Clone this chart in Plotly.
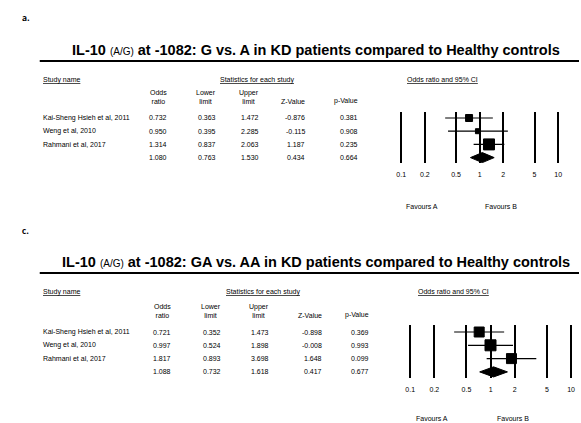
import plotly.graph_objects as go

W, H = 581, 423

studies = ["Kai-Sheng Hsieh et al, 2011", "Weng et al, 2010", "Rahmani et al, 2017"]
col_heads = ["Odds<br>ratio", "Lower<br>limit", "Upper<br>limit", "Z-Value", "p-Value"]
ticks = [0.1, 0.2, 0.5, 1, 2, 5, 10]

# panel a: G vs. A
a_or = [0.732, 0.950, 1.314, 1.080]
a_lo = [0.363, 0.395, 0.837, 0.763]
a_hi = [1.472, 2.285, 2.063, 1.530]
a_z = [-0.876, -0.115, 1.187, 0.434]
a_p = [0.381, 0.908, 0.235, 0.664]
a_size = [7, 5, 11]

# panel c: GA vs. AA
c_or = [0.721, 0.997, 1.817, 1.088]
c_lo = [0.352, 0.524, 0.893, 0.732]
c_hi = [1.473, 1.898, 3.698, 1.618]
c_z = [-0.898, -0.008, 1.648, 0.417]
c_p = [0.369, 0.993, 0.099, 0.677]
c_size = [10, 11, 10]

FONT = "Liberation Sans, Arial, sans-serif"
PAD = 0.03  # log-units of slack so the 0.1 and 10 rules are drawn
fig = go.Figure()
ann = []
shapes = []


def px(x):
    return x / W


def py(y):
    return 1 - y / H


def note(x, y, text, font, yanchor="middle", **kw):
    ann.append(dict(x=px(x), y=py(y), xref="paper", yref="paper", text=text,
                    showarrow=False, font=font, yanchor=yanchor, **kw))


def panel(label, title, ors, los, his, zs, ps, sizes, top, cols, stat_x,
          row0, row_step, ly0, ly1, fx0, fx1, fav_y, ax):
    xr = "x" if ax == 1 else f"x{ax}"
    yr = "y" if ax == 1 else f"y{ax}"
    note(18, top - 43, f"<b>{label}</b>", dict(size=10, family="Carlito, " + FONT, color="black"),
         xanchor="left")
    note(316, top - 11, title, dict(size=14.5, family=FONT, color="black"))
    shapes.append(dict(type="line", xref="paper", yref="paper", x0=px(38), x1=1,
                       y0=py(top), y1=py(top), line=dict(color="black", width=2)))
    hy = top + 18.5
    small = dict(size=7, family=FONT, color="black")
    note(39, hy, "<u>Study name</u>", small, xanchor="left")
    note(stat_x, hy, "<u>Statistics for each study</u>", small)
    note((fx0 + fx1) / 2, hy, "<u>Odds ratio and 95% CI</u>", small)
    for cx, h in zip(cols, col_heads):
        note(cx, row0 - 11, h, small, yanchor="bottom", xanchor="right")
    names = studies + [""]
    for i in range(4):
        ry = row0 + i * row_step
        note(39, ry, names[i], small, xanchor="left")
        vals = [f"{ors[i]:.3f}", f"{los[i]:.3f}", f"{his[i]:.3f}", f"{zs[i]:.3f}", f"{ps[i]:.3f}"]
        for cx, v in zip(cols, vals):
            note(cx, ry, v, small, xanchor="right")
    note(fx0 + (fx1 - fx0) * 0.25, fav_y, "Favours A", small)
    note(fx0 + (fx1 - fx0) * 0.75, fav_y, "Favours B", small)

    lx, ly = [], []
    for i in range(3):
        lx += [los[i], his[i], None]
        ly += [i + 1, i + 1, None]
    fig.add_trace(go.Scatter(x=lx, y=ly, mode="lines", line=dict(color="black", width=1.2),
                             xaxis=xr, yaxis=yr, hoverinfo="skip"))
    fig.add_trace(go.Scatter(x=ors[:3], y=[1, 2, 3], mode="markers",
                             marker=dict(symbol="square", size=sizes, color="#000000",
                                         opacity=1, line=dict(width=1, color="#000000")),
                             xaxis=xr, yaxis=yr))
    fig.add_trace(go.Scatter(x=[los[3], ors[3], his[3], ors[3], los[3]],
                             y=[4, 3.62, 4, 4.38, 4], mode="lines", fill="toself",
                             fillcolor="black", line=dict(color="black", width=1),
                             xaxis=xr, yaxis=yr))
    lo_v = 1 + (ly0 - row0) / row_step
    hi_v = 1 + (ly1 - row0) / row_step
    slack = (fx1 - fx0) / 2 * PAD
    axis = dict(type="log", range=[-1 - PAD, 1 + PAD],
                domain=[px(fx0 - slack), px(fx1 + slack)], tickvals=ticks,
                ticktext=[str(t) for t in ticks], showgrid=True, gridcolor="black",
                gridwidth=2, zeroline=False, showline=False, ticks="",
                tickfont=dict(size=7, family=FONT, color="black"), anchor=yr,
                ticklabelstandoff=6, layer="below traces")
    yaxis = dict(range=[hi_v, lo_v], domain=[py(ly1), py(ly0)], visible=False, anchor=xr)
    fig.update_layout({f"xaxis{'' if ax == 1 else ax}": axis,
                       f"yaxis{'' if ax == 1 else ax}": yaxis})


panel("a.", "<b>IL-10</b> <span style='font-size:10px'>(A/G)</span> <b>at -1082: G vs. A in KD patients compared to Healthy controls</b>",
      a_or, a_lo, a_hi, a_z, a_p, a_size, 61, [168, 218, 261, 307, 360], 257,
      118, 13.2, 112, 163, 402, 560, 206, 1)
panel("c.", "<b>IL-10</b> <span style='font-size:10px'>(A/G)</span> <b>at -1082: GA vs. AA in KD patients compared to Healthy controls</b>",
      c_or, c_lo, c_hi, c_z, c_p, c_size, 273, [172, 223, 271, 324, 372], 263,
      332, 13.3, 325, 378, 411, 573, 418, 2)

fig.update_layout(width=W, height=H, margin=dict(l=0, r=0, t=0, b=0),
                  plot_bgcolor="white", paper_bgcolor="white", showlegend=False,
                  annotations=ann, shapes=shapes)
fig.write_html("out.html", config={"displayModeBar": False},
               post_script="document.body.style.margin='0';document.body.style.overflow='hidden';")
